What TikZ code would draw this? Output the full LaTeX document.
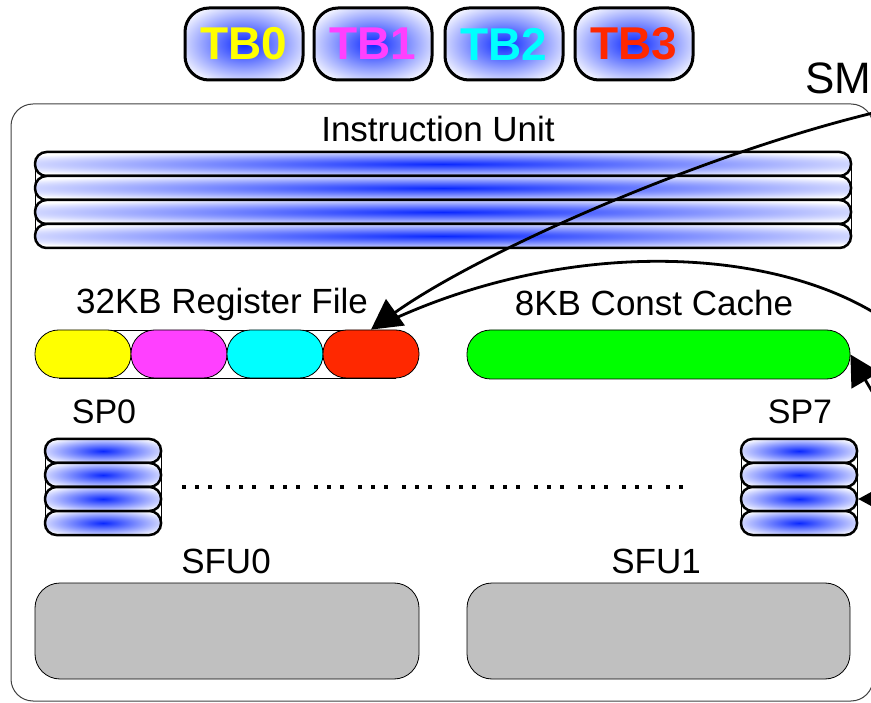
\documentclass[tikz,border=0pt]{standalone}
\usepackage{fontspec}
\setmainfont{Liberation Sans}
\usetikzlibrary{arrows.meta}
\definecolor{sblue}{RGB}{10,40,255}
\definecolor{tbyellow}{RGB}{255,255,0}
\definecolor{tbmagenta}{RGB}{255,64,255}
\definecolor{tbcyan}{RGB}{0,255,255}
\definecolor{tbred}{RGB}{255,40,0}
\definecolor{ccgreen}{RGB}{0,255,0}
\definecolor{sfugray}{RGB}{192,192,192}
\pgfdeclareradialshading{blueglow}{\pgfpoint{0bp}{0bp}}{color(0bp)=(sblue); color(31bp)=(white); color(50bp)=(white)}
\begin{document}
\begin{tikzpicture}[x=1pt,y=-1pt,
  lbl/.style={font=\fontsize{35}{35}\selectfont, inner sep=0pt, anchor=base},
  tbbox/.style={draw, line width=3pt, rounded corners=24pt, minimum width=118pt, minimum height=72pt, inner sep=0pt, shade, shading=blueglow, font=\fontsize{46}{46}\selectfont\bfseries},
  barbase/.style={draw, line width=2.5pt, rounded corners=11.5pt, minimum height=24pt, inner sep=0pt, shade, shading=blueglow},
  iubar/.style={barbase, minimum width=816pt},
  spbar/.style={barbase, minimum width=116pt},
  rfpill/.style={draw, line width=0.8pt, rounded corners=23.5pt, minimum width=96pt, minimum height=48pt, inner sep=0pt},
  sfubox/.style={draw, line width=0.8pt, rounded corners=25pt, fill=sfugray, minimum width=384pt, minimum height=96pt, inner sep=0pt},
  backframe/.style={draw, line width=0.8pt, inner sep=0pt},
  conn/.style={line width=2.8pt, -{Triangle[length=30pt,width=32pt]}},
  plainconn/.style={line width=2.8pt}
]
\useasboundingbox (0,0) rectangle (871,703);
\clip (0,0) rectangle (871,703);

% SM outer box
\node[draw=black!75, line width=1pt, rounded corners=22pt, minimum width=862pt, minimum height=597pt, inner sep=0pt] (smbox) at (442,402.5) {};
\node[font=\fontsize{44}{44}\selectfont, inner sep=0pt, anchor=base west] (smlabel) at (805,94) {SM};

% thread blocks
\node[tbbox, text=tbyellow]  (tb0) at (244,44) {TB0};
\node[tbbox, text=tbmagenta] (tb1) at (373,44) {TB1};
\node[tbbox, text=tbcyan]    (tb2) at (504,44) {TB2};
\node[tbbox, text=tbred]     (tb3) at (634,44) {TB3};

% instruction unit
\node[lbl] (iulabel) at (438,142) {Instruction Unit};
\node[backframe, minimum width=816pt, minimum height=72pt] (iuframe) at (443,200) {};
\node[iubar] (iu1) at (443,164) {};
\node[iubar] (iu2) at (443,188) {};
\node[iubar] (iu3) at (443,212) {};
\node[iubar] (iu4) at (443,236) {};

% register file
\node[lbl] (rflabel) at (222,314) {32KB Register File};
\node[backframe, minimum width=336pt, minimum height=48pt] (rfframe) at (227,354) {};
\node[rfpill, fill=tbyellow]  (rf0) at (83,354) {};
\node[rfpill, fill=tbmagenta] (rf1) at (179,354) {};
\node[rfpill, fill=tbcyan]    (rf2) at (275,354) {};
\node[rfpill, fill=tbred]     (rf3) at (371,354) {};

% const cache
\node[lbl] (cclabel) at (654,316) {8KB Const Cache};
\node[rfpill, fill=ccgreen, minimum width=383pt, minimum height=49pt] (cc) at (658.5,354.5) {};

% SP0
\node[lbl, font=\fontsize{34}{34}\selectfont] (sp0label) at (104,424) {SP0};
\node[backframe, minimum width=116pt, minimum height=72pt] (sp0frame) at (103,487) {};
\node[spbar] (sp0a) at (103,451) {};
\node[spbar] (sp0b) at (103,475) {};
\node[spbar] (sp0c) at (103,499) {};
\node[spbar] (sp0d) at (103,523) {};

% SP7
\node[lbl, font=\fontsize{34}{34}\selectfont] (sp7label) at (800,424) {SP7};
\node[backframe, minimum width=116pt, minimum height=72pt] (sp7frame) at (799,487) {};
\node[spbar] (sp7a) at (799,451) {};
\node[spbar] (sp7b) at (799,475) {};
\node[spbar] (sp7c) at (799,499) {};
\node[spbar] (sp7d) at (799,523) {};

% dots
\foreach \k in {0,...,10}{
  \foreach \d in {0,13,26}{
    \fill ({184+44*\k+\d-1.7},485.3) rectangle ++(3.4,3.4);
  }
}
\foreach \d in {0,13}{
  \fill ({668+\d-1.7},485.3) rectangle ++(3.4,3.4);
}

% SFUs
\node[lbl] (sfu0label) at (226,573) {SFU0};
\node[lbl] (sfu1label) at (656,573) {SFU1};
\node[sfubox] (sfu0) at (227,631) {};
\node[sfubox, minimum width=383pt] (sfu1) at (658.5,631) {};

% connectors
\coordinate (inA) at (873,113);
\coordinate (inB) at (873,312);
\coordinate (inC) at (880,405);
\coordinate (inD) at (895,499);
\draw[plainconn, shorten >=14pt] (inB) .. controls (760,245) and (560,240) .. (rf3.north);
\draw[conn] (inA) .. controls (700,155) and (480,252) .. (rf3.north);
\draw[conn] (inC) -- (cc.east);
\draw[conn] (inD) -- (sp7c.east);
\end{tikzpicture}
\end{document}
